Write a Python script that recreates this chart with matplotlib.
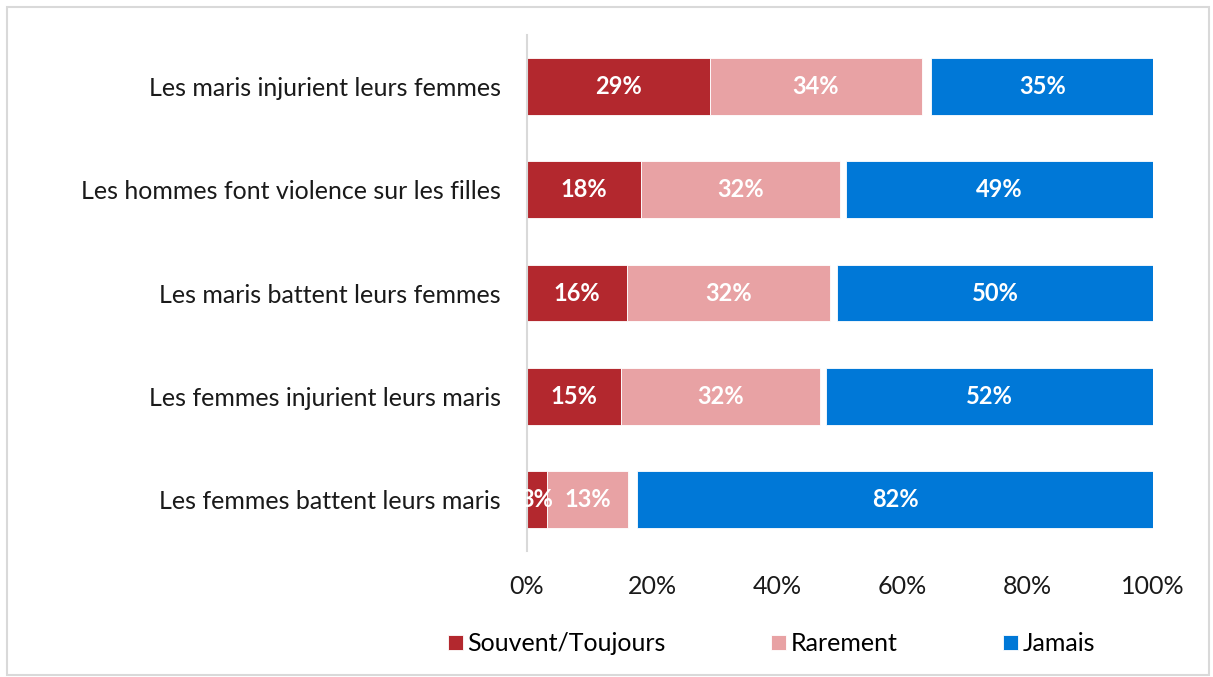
#!/usr/bin/env python3
"""Stacked horizontal bars: frequency of domestic violence situations."""

import matplotlib.pyplot as plt
from matplotlib.patches import Rectangle

CATEGORIES = [
    "Les maris injurient leurs femmes",
    "Les hommes font violence sur les filles",
    "Les maris battent leurs femmes",
    "Les femmes injurient leurs maris",
    "Les femmes battent leurs maris",
]
SOUVENT = [29.2, 18.2, 16.0, 15.0, 3.2]
RAREMENT = [33.9, 31.8, 32.4, 31.8, 12.9]
JAMAIS = [35.4, 49.0, 50.4, 52.2, 82.4]
SERIES = ["Souvent/Toujours", "Rarement", "Jamais"]
COLORS = ["#b3282e", "#e8a2a4", "#0078d7"]
XTICKS = [0, 20, 40, 60, 80, 100]

plt.rcParams["font.family"] = ["Lato", "DejaVu Sans"]

fig = plt.figure(figsize=(12.13, 6.77), dpi=100)
ax = fig.add_axes([0.4345, 0.1861, 0.516, 0.7622])

y = list(range(len(CATEGORIES)))
left = [0.0] * len(CATEGORIES)
for name, vals, col in zip(SERIES, [SOUVENT, RAREMENT, JAMAIS], COLORS):
    if name == "Jamais":
        # Jamais is drawn flush with 100%, the leftover (non-reponse) stays blank
        left = [100 - v for v in vals]
    ax.barh(y, vals, left=left, height=0.55, color=col, label=name,
            edgecolor="white", linewidth=0.6)
    for yi, l, v in zip(y, left, vals):
        ax.text(l + v / 2, yi, f"{v:.0f}%", ha="center", va="center",
                color="white", fontsize=17, fontweight="bold")
    left = [l + v for l, v in zip(left, vals)]

ax.set_xlim(0, 100)
ax.set_ylim(len(CATEGORIES) - 0.5, -0.5)
ax.set_yticks(y)
ax.set_yticklabels(CATEGORIES, fontsize=18, color="#1a1a1a")
ax.set_xticks(XTICKS)
ax.set_xticklabels([f"{t}%" for t in XTICKS], fontsize=18, color="#1a1a1a")
ax.tick_params(axis="both", length=0)
ax.tick_params(axis="y", pad=19)
ax.tick_params(axis="x", pad=17)
for side in ["top", "right", "bottom"]:
    ax.spines[side].set_visible(False)
ax.spines["left"].set_color("#d9d9d9")
ax.spines["left"].set_linewidth(1.5)

handles, labels = ax.get_legend_handles_labels()
fig.legend(handles, labels, loc="center", bbox_to_anchor=(0.636, 0.049), ncol=3,
           frameon=False, fontsize=18, handlelength=0.6, handleheight=0.6,
           handletextpad=0.2, columnspacing=4.2)

fig.patches.append(Rectangle((0.006, 0.003), 0.991, 0.987, transform=fig.transFigure,
                             fill=False, edgecolor="#d9d9d9", linewidth=1.5))

plt.savefig("out.png", dpi=100)
